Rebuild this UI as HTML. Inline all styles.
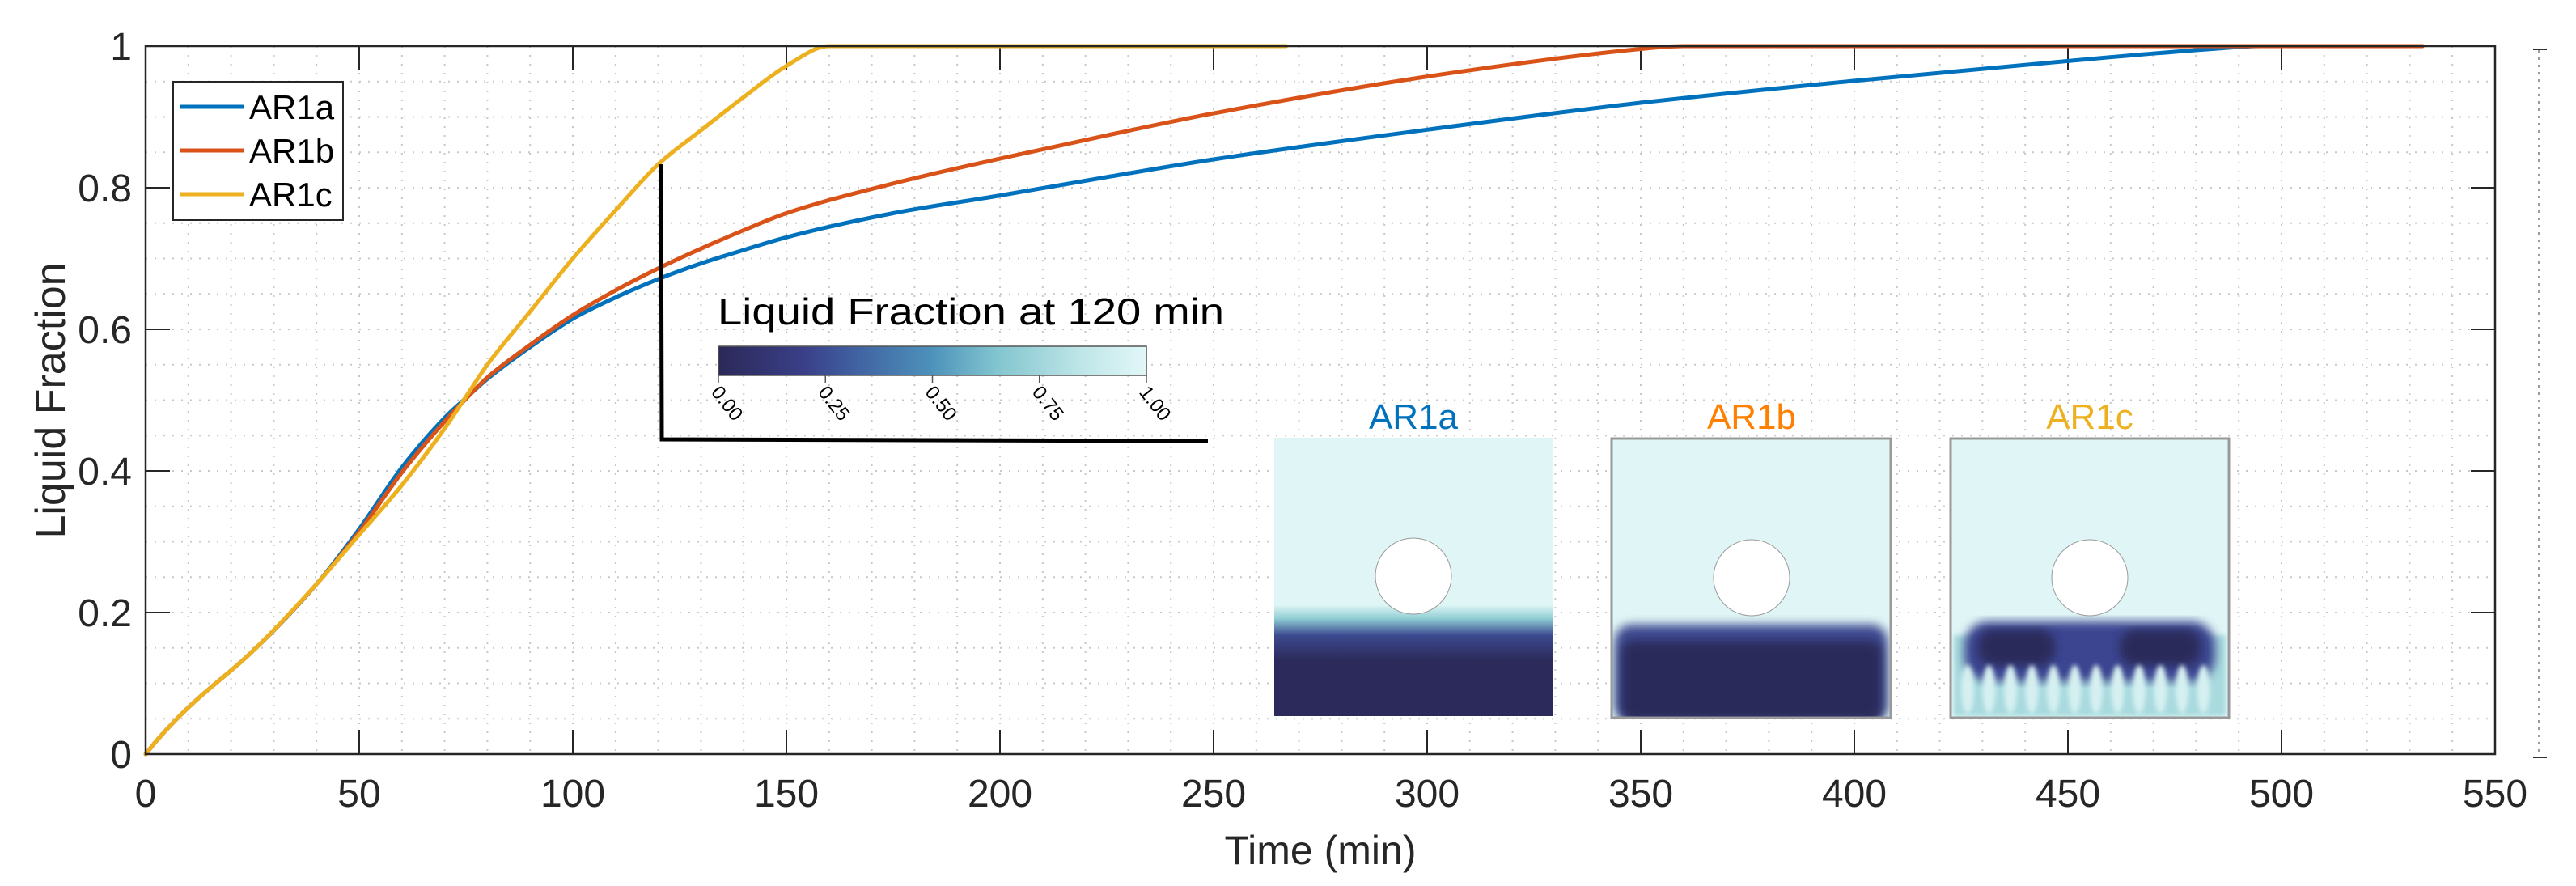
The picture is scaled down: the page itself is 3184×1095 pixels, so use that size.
<!DOCTYPE html>
<html><head><meta charset="utf-8"><style>
html,body{margin:0;padding:0;background:#fff;}
svg{display:block;}
text{font-family:"Liberation Sans",sans-serif;}
</style></head><body>
<svg id="chart" width="3184" height="1095" viewBox="0 0 3184 1095" xmlns="http://www.w3.org/2000/svg">
<defs>
<linearGradient id="cmap" x1="0" x2="1" y1="0" y2="0">
<stop offset="0" stop-color="#2b2958"/><stop offset="0.2" stop-color="#3a3f88"/><stop offset="0.3" stop-color="#3f5c9e"/><stop offset="0.5" stop-color="#4d92bb"/><stop offset="0.65" stop-color="#82c5cf"/><stop offset="0.85" stop-color="#bfe6e8"/><stop offset="1" stop-color="#e2f7f7"/>
</linearGradient>
<linearGradient id="gA" x1="0" x2="0" y1="0" y2="1">
<stop offset="0" stop-color="#e0f6f6"/><stop offset="0.6" stop-color="#e0f6f6"/><stop offset="0.65" stop-color="#8fcdd4"/><stop offset="0.71" stop-color="#3c4a90"/><stop offset="0.8" stop-color="#2c2a5a"/><stop offset="1" stop-color="#2c2a5a"/>
</linearGradient>
<filter id="blur6"><feGaussianBlur stdDeviation="6"/></filter>
<filter id="blur3"><feGaussianBlur stdDeviation="3"/></filter>
<clipPath id="clipB"><rect x="1992" y="542" width="345" height="345"/></clipPath>
<clipPath id="clipC"><rect x="2411" y="542" width="344" height="345"/></clipPath>
</defs>
<g id="grid"></g>
<g id="ticks"></g>
<g id="series"></g>
<rect x="180" y="57" width="2904" height="875" fill="none" stroke="#262626" stroke-width="2.5"/>
<text x="1632" y="1068" font-size="50" text-anchor="middle" fill="#262626">Time (min)</text>
<text transform="translate(80,495) rotate(-90)" font-size="52" text-anchor="middle" fill="#262626">Liquid Fraction</text>
<g>
<rect x="214" y="101" width="210" height="171" fill="#fff" stroke="#262626" stroke-width="2"/>
<line x1="222" y1="132" x2="302" y2="132" stroke="#0072BD" stroke-width="5"/>
<line x1="222" y1="186" x2="302" y2="186" stroke="#D95319" stroke-width="5"/>
<line x1="222" y1="240" x2="302" y2="240" stroke="#EDB120" stroke-width="5"/>
<text x="308" y="147" font-size="42">AR1a</text>
<text x="308" y="201" font-size="42">AR1b</text>
<text x="308" y="255" font-size="42">AR1c</text>
</g>
<g>
<polyline points="817,203 818,543 1493,545" fill="none" stroke="#000" stroke-width="5"/>
</g>
<g>
<text x="887" y="401" font-size="46" font-family="DejaVu Sans, sans-serif" textLength="626" lengthAdjust="spacingAndGlyphs">Liquid Fraction at 120 min</text>
<rect x="888" y="428" width="529" height="36" fill="url(#cmap)" stroke="#555" stroke-width="1.5"/>
<g id="cbticks"></g>
</g>
<g>
<text x="1747" y="530" font-size="44" font-family="DejaVu Sans, sans-serif" text-anchor="middle" fill="#0072BD">AR1a</text>
<rect x="1575" y="541" width="345" height="344" fill="url(#gA)"/>
<circle cx="1747" cy="712" r="47" fill="#fff" stroke="#999" stroke-width="1"/>
</g>
<g>
<text x="2165" y="530" font-size="44" font-family="DejaVu Sans, sans-serif" text-anchor="middle" fill="#FF8000">AR1b</text>
<rect x="1992" y="542" width="345" height="345" fill="#e0f6f6"/>
<g clip-path="url(#clipB)">
<rect x="1996" y="772" width="337" height="120" rx="20" fill="#3c4a90" filter="url(#blur6)"/>
<rect x="2004" y="792" width="322" height="100" rx="14" fill="#2c2a5a" filter="url(#blur6)"/>
</g>
<rect x="1992" y="542" width="345" height="345" fill="none" stroke="#999" stroke-width="3"/>
<circle cx="2165" cy="714" r="47" fill="#fff" stroke="#999" stroke-width="1"/>
</g>
<g>
<text x="2583" y="530" font-size="44" font-family="DejaVu Sans, sans-serif" text-anchor="middle" fill="#EDB120">AR1c</text>
<rect x="2411" y="542" width="344" height="345" fill="#e0f6f6"/>
<g clip-path="url(#clipC)">
<rect x="2415" y="785" width="336" height="100" fill="#a8dade" filter="url(#blur3)"/>
<rect x="2428" y="768" width="310" height="74" rx="30" fill="#3a4590" filter="url(#blur6)"/>
<rect x="2445" y="778" width="95" height="45" rx="20" fill="#2c2a5a" filter="url(#blur6)"/>
<rect x="2620" y="778" width="100" height="45" rx="20" fill="#2c2a5a" filter="url(#blur6)"/>
<g id="fingers" fill="#d6f0f1" filter="url(#blur3)"></g>
</g>
<rect x="2411" y="542" width="344" height="345" fill="none" stroke="#999" stroke-width="3"/>
<circle cx="2583" cy="714" r="47" fill="#fff" stroke="#999" stroke-width="1"/>
</g>
<g stroke="#999" stroke-width="2">
<line x1="3138" y1="62" x2="3138" y2="932" stroke-dasharray="3,6"/>
<line x1="3131" y1="61" x2="3148" y2="61" stroke="#333"/>
<line x1="3131" y1="936" x2="3148" y2="936" stroke="#333"/>
</g>
</svg>
<script>
const xTicks=[0,50,100,150,200,250,300,350,400,450,500,550];
const yTicks=[0,0.2,0.4,0.6,0.8,1];
const yTickLabels=["0","0.2","0.4","0.6","0.8","1"];
const tA=[0,3,10,25,40,50,60,70,75,80,90,100,110,120,130,140,150,175,200,225,250,300,350,400,450,486,495,533];
const vA=[0,0.022,0.066,0.145,0.24,0.318,0.405,0.475,0.503,0.53,0.575,0.615,0.645,0.671,0.693,0.712,0.73,0.764,0.789,0.815,0.84,0.882,0.92,0.951,0.979,0.997,1,1];
const tB=[0,3,10,25,40,50,60,70,75,80,90,100,110,120,130,140,150,175,200,225,250,300,350,360,533];
const vB=[0,0.022,0.066,0.145,0.24,0.314,0.398,0.47,0.502,0.532,0.578,0.62,0.655,0.686,0.714,0.74,0.764,0.806,0.841,0.874,0.905,0.957,0.996,1,1];
const tC=[0,3,10,25,40,50,60,70,75,80,90,100,110,120,130,140,150,160,267];
const vC=[0,0.022,0.066,0.145,0.24,0.31,0.38,0.46,0.505,0.55,0.625,0.70,0.768,0.833,0.881,0.928,0.972,1,1];
const cbTicks=["0.00","0.25","0.50","0.75","1.00"];
const X0=180,X1=3084,Y0=932,Y1=57;
const xs=t=>X0+(t/550)*(X1-X0);
const ys=v=>Y0-v*(Y0-Y1);
const NS="http://www.w3.org/2000/svg";
function mk(tag,attrs,parent){const e=document.createElementNS(NS,tag);for(const k in attrs)e.setAttribute(k,attrs[k]);parent.appendChild(e);return e;}
const grid=document.getElementById('grid'),ticks=document.getElementById('ticks'),series=document.getElementById('series');
for(let t=10;t<550;t+=10){const l=mk('line',{x1:xs(t),x2:xs(t),y1:Y1,y2:Y0,stroke:'#c8c8c8','stroke-width':2,'stroke-dasharray':'2,9'},grid);

}
for(let i=1;i<20;i++){const v=i*0.05;const l=mk('line',{x1:X0,x2:X1,y1:ys(v),y2:ys(v),stroke:'#c8c8c8','stroke-width':2,'stroke-dasharray':'2,9'},grid);

}
xTicks.forEach(t=>{const x=xs(t);
mk('line',{x1:x,x2:x,y1:Y0,y2:Y0-30,stroke:'#262626','stroke-width':2},ticks);
mk('line',{x1:x,x2:x,y1:Y1,y2:Y1+30,stroke:'#262626','stroke-width':2},ticks);
const tx=mk('text',{x:x,y:997,'font-size':48,'text-anchor':'middle',fill:'#262626'},ticks);tx.textContent=t;

});
yTicks.forEach((v,i)=>{const y=ys(v);
mk('line',{x1:X0,x2:X0+30,y1:y,y2:y,stroke:'#262626','stroke-width':2},ticks);
mk('line',{x1:X1,x2:X1-30,y1:y,y2:y,stroke:'#262626','stroke-width':2},ticks);
const tx=mk('text',{x:163,y:y+17,'font-size':48,'text-anchor':'end',fill:'#262626'},ticks);tx.textContent=yTickLabels[i];

});
function monoPath(ts,vs){
  const n=ts.length,px=ts.map(xs),py=vs.map(ys);
  const d=[],m=new Array(n);
  for(let i=0;i<n-1;i++)d.push((py[i+1]-py[i])/(px[i+1]-px[i]));
  m[0]=d[0];m[n-1]=d[n-2];
  for(let i=1;i<n-1;i++){m[i]=(d[i-1]*d[i]<=0)?0:(d[i-1]+d[i])/2;}
  for(let i=0;i<n-1;i++){if(d[i]===0){m[i]=0;m[i+1]=0;continue;}
    const a=m[i]/d[i],b=m[i+1]/d[i],s=a*a+b*b;if(s>9){const tt=3/Math.sqrt(s);m[i]=tt*a*d[i];m[i+1]=tt*b*d[i];}}
  let p='M'+px[0].toFixed(1)+','+py[0].toFixed(1);
  for(let i=0;i<n-1;i++){const h=(px[i+1]-px[i])/3;
    p+=' C'+(px[i]+h).toFixed(1)+','+(py[i]+m[i]*h).toFixed(1)+' '+(px[i+1]-h).toFixed(1)+','+(py[i+1]-m[i+1]*h).toFixed(1)+' '+px[i+1].toFixed(1)+','+py[i+1].toFixed(1);}
  return p;}
function line(ts,vs,color,name){
const p=mk('path',{d:monoPath(ts,vs),fill:'none',stroke:color,'stroke-width':5,'stroke-linejoin':'round','stroke-linecap':'round'},series);

}
line(tA,vA,'#0072BD','series-ar1a');
line(tB,vB,'#D95319','series-ar1b');
line(tC,vC,'#EDB120','series-ar1c');
const cb=document.getElementById('cbticks');
cbTicks.forEach((s,i)=>{const x=888+i*529/4;
mk('line',{x1:x,x2:x,y1:464,y2:473,stroke:'#555','stroke-width':1.5},cb);
const tx=mk('text',{transform:`translate(${x-10},${485}) rotate(52)`,'font-size':24,fill:'#000','font-family':'DejaVu Sans, sans-serif'},cb);tx.textContent=s;

});
const fg=document.getElementById('fingers');
for(let i=0;i<12;i++){mk('ellipse',{cx:2432+i*26.5,cy:852,rx:8,ry:30},fg);}
</script>
</body></html>
